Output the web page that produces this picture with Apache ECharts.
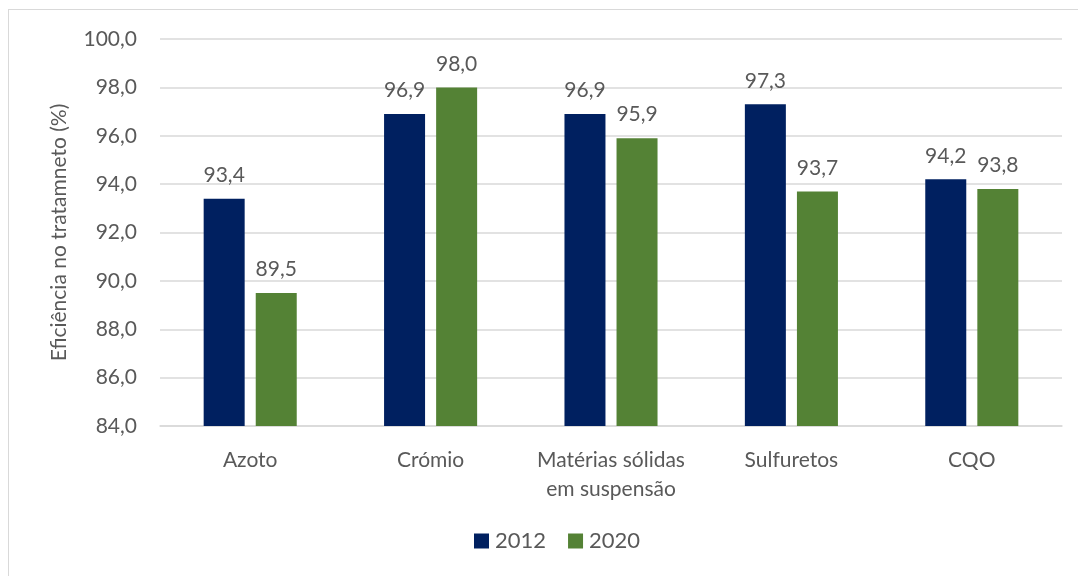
<!DOCTYPE html>
<html>
<head>
<meta charset="utf-8">
<script src="https://cdn.jsdelivr.net/npm/echarts@6/dist/echarts.min.js"></script>
<style>
  html, body { margin: 0; padding: 0; background: #fff; }
  #frame { position: absolute; left: 8px; top: 9px; width: 1075px; height: 570px; border: 1px solid #d9d9d9; box-sizing: border-box; }
  #chart { position: absolute; left: 0; top: 0; width: 1078px; height: 576px; }
</style>
</head>
<body>
<div id="frame"></div>
<div id="chart"></div>
<script>
// Treatment efficiency per parameter, 2012 vs 2020
const categories = ['Azoto', 'Crómio', 'Matérias sólidas\nem suspensão', 'Sulfuretos', 'CQO'];
const values2012 = [93.4, 96.9, 96.9, 97.3, 94.2];
const values2020 = [89.5, 98.0, 95.9, 93.7, 93.8];
const seriesNames = ['2012', '2020'];

const fontFamily = 'Lato, "Open Sans", sans-serif';
const textColor = '#595959';
const fmt = v => v.toFixed(1).replace('.', ',');

const chart = echarts.init(document.getElementById('chart'), null, { renderer: 'canvas' });

const labelStyle = {
  show: true,
  position: 'top',
  distance: 13,
  color: textColor,
  fontSize: 21,
  fontFamily: fontFamily,
  formatter: p => fmt(p.value)
};

chart.setOption({
  animation: false,
  textStyle: { fontFamily: fontFamily },
  grid: { left: 160, right: 16, top: 39, bottom: 150, containLabel: false },
  legend: {
    data: seriesNames,
    bottom: 19,
    left: 469,
    itemWidth: 15,
    itemHeight: 15,
    itemGap: 22,
    icon: 'rect',
    textStyle: { color: textColor, fontSize: 22, fontFamily: fontFamily, padding: [0, 0, 0, 1] }
  },
  xAxis: {
    type: 'category',
    data: categories,
    axisLine: { lineStyle: { color: '#d9d9d9', width: 1.5 } },
    axisTick: { show: false },
    axisLabel: { color: textColor, fontSize: 21, fontFamily: fontFamily, margin: 20, lineHeight: 29, interval: 0 }
  },
  yAxis: {
    type: 'value',
    min: 84,
    max: 100,
    interval: 2,
    name: 'Eficiência no tratamneto (%)',
    nameLocation: 'middle',
    nameGap: 90,
    nameTextStyle: { color: textColor, fontSize: 21, fontFamily: fontFamily },
    axisLine: { show: false },
    axisTick: { show: false },
    axisLabel: { color: textColor, fontSize: 21, fontFamily: fontFamily, margin: 23, formatter: v => fmt(v) },
    splitLine: { lineStyle: { color: '#d9d9d9', width: 1.5 } }
  },
  series: [
    {
      name: seriesNames[0],
      type: 'bar',
      data: values2012,
      barWidth: 41,
      barGap: '27%',
      itemStyle: { color: '#002060' },
      label: labelStyle
    },
    {
      name: seriesNames[1],
      type: 'bar',
      data: values2020,
      barWidth: 41,
      itemStyle: { color: '#548235' },
      label: labelStyle
    }
  ]
});
</script>
</body>
</html>
